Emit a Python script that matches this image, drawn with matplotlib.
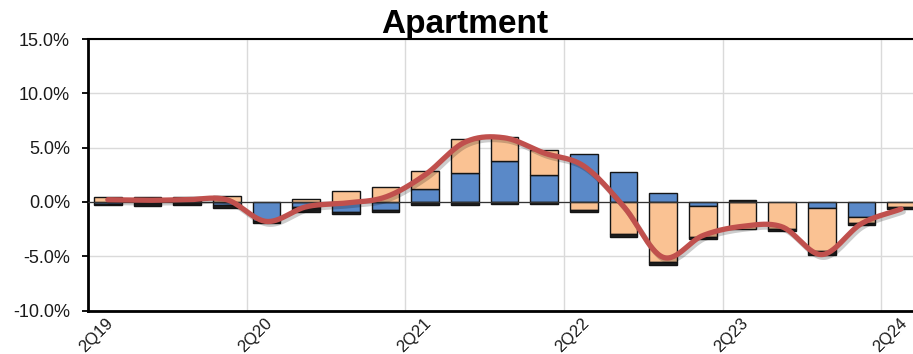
import numpy as np
import matplotlib
matplotlib.use("Agg")
import matplotlib.pyplot as plt
import matplotlib.patheffects as pe
from matplotlib.transforms import ScaledTranslation

plt.rcParams['font.family'] = ['Liberation Sans', 'DejaVu Sans']

# Quarterly contributions (percentage points)
quarters = ["2Q19", "3Q19", "4Q19", "1Q20", "2Q20", "3Q20", "4Q20", "1Q21",
            "2Q21", "3Q21", "4Q21", "1Q22", "2Q22", "3Q22", "4Q22", "1Q23",
            "2Q23", "3Q23", "4Q23", "1Q24", "2Q24"]
blue = [-0.2, 0.3, 0.1, -0.3, -1.75, -0.5, -0.9, -0.75,
        1.15, 2.7, 3.8, 2.5, 4.4, 2.75, 0.8, -0.4,
        0.0, 0.0, -0.55, -1.35, 0.0]
peach = [0.45, 0.15, 0.35, 0.5, 0.0, 0.3, 1.0, 1.4,
         1.7, 3.05, 2.15, 2.25, -0.7, -3.0, -5.5, -2.8,
         -2.5, -2.45, -4.0, -0.6, -0.45]
dark = [-0.1, -0.4, -0.3, -0.25, -0.15, -0.4, -0.2, -0.15,
        -0.25, -0.25, -0.2, -0.15, -0.25, -0.25, -0.35, -0.25,
        0.2, -0.2, -0.35, -0.2, -0.2]
total = [0.2, 0.15, 0.2, 0.2, -1.8, -0.45, -0.1, 0.45,
         2.5, 5.5, 5.9, 4.5, 3.3, -0.4, -5.1, -3.1,
         -2.25, -2.3, -4.85, -2.0, -0.65]
year_labels = ["2Q19", "2Q20", "2Q21", "2Q22", "2Q23", "2Q24"]
y_ticks = [-10, -5, 0, 5, 10, 15]

W, H = 913, 354
fig = plt.figure(figsize=(W / 100, H / 100), dpi=100)
left, right, top, bottom = 88, 921, 39, 310.5
ax = fig.add_axes([left / W, (H - bottom) / H, (right - left) / W, (bottom - top) / H])

x = np.arange(len(quarters))
width = 0.7
colors = ["#5A89C8", "#FAC293", "#1E1E1E"]
pos_base = np.zeros(len(x))
neg_base = np.zeros(len(x))
for series, col in zip([blue, peach, dark], colors):
    v = np.asarray(series, dtype=float)
    base = np.where(v >= 0, pos_base, neg_base)
    mask = v != 0
    ax.bar(x[mask], v[mask], width, bottom=base[mask], color=col,
           edgecolor="#141414", linewidth=1.0, zorder=3)
    pos_base += np.where(v > 0, v, 0)
    neg_base += np.where(v < 0, v, 0)


def smooth_curve(xs, ys, n=30):
    """Catmull-Rom spline through the points, as a smoothed line."""
    xs = np.asarray(xs, float)
    ys = np.asarray(ys, float)
    px = np.concatenate([[2 * xs[0] - xs[1]], xs, [2 * xs[-1] - xs[-2]]])
    py = np.concatenate([[2 * ys[0] - ys[1]], ys, [2 * ys[-1] - ys[-2]]])
    out_x, out_y = [], []
    for i in range(1, len(px) - 2):
        t = np.linspace(0, 1, n, endpoint=False)
        for arr, p in ((out_x, px), (out_y, py)):
            p0, p1, p2, p3 = p[i - 1], p[i], p[i + 1], p[i + 2]
            m1 = (p2 - p0) / 2
            m2 = (p3 - p1) / 2
            h00 = 2 * t**3 - 3 * t**2 + 1
            h10 = t**3 - 2 * t**2 + t
            h01 = -2 * t**3 + 3 * t**2
            h11 = t**3 - t**2
            arr.extend(h00 * p1 + h10 * m1 + h01 * p2 + h11 * m2)
    out_x.append(xs[-1])
    out_y.append(ys[-1])
    return np.array(out_x), np.array(out_y)


sx, sy = smooth_curve(x, total)
ax.plot(sx, sy, color="#C0504D", linewidth=3.8, solid_capstyle="round", zorder=5,
        path_effects=[pe.SimpleLineShadow(offset=(1.5, -2), shadow_color="k", alpha=0.2),
                      pe.Normal()])

ax.axhline(0, color="#333333", linewidth=0.9, zorder=4)

ax.set_xlim(-0.5, len(quarters) - 0.5)
ax.set_ylim(-10, 15)
ax.set_yticks(y_ticks)
ax.set_yticklabels([f"{v:.1f}%" for v in y_ticks], fontsize=13, color="#1a1a1a")
ax.tick_params(axis="y", direction="out", length=4.5, width=1.3, pad=8.5)

boundaries = np.arange(-0.5, len(quarters), 4)
ax.set_xticks(boundaries)
ax.set_xticklabels([])
ax.tick_params(axis="x", length=0)
ax.grid(True, color="#DADADA", linewidth=1.0, zorder=0)
ax.set_axisbelow(True)

offset = ScaledTranslation(23 / 100, -10 / 100, fig.dpi_scale_trans)
for b, lab in zip(boundaries, year_labels):
    ax.text(b, 0, lab, transform=ax.get_xaxis_transform() + offset,
            rotation=45, rotation_mode="anchor", ha="right", va="center",
            fontsize=12, color="#1a1a1a")

for side in ("left", "bottom"):
    ax.spines[side].set_linewidth(2.0)
    ax.spines[side].set_color("black")
ax.spines["top"].set_linewidth(1.5)
ax.spines["top"].set_color("black")
ax.spines["right"].set_visible(False)

fig.text(465 / W, 1 - 33 / H, "Apartment", ha="center", va="baseline",
         fontsize=24, fontweight="bold", color="black")

fig.savefig("out.png", dpi=100)
